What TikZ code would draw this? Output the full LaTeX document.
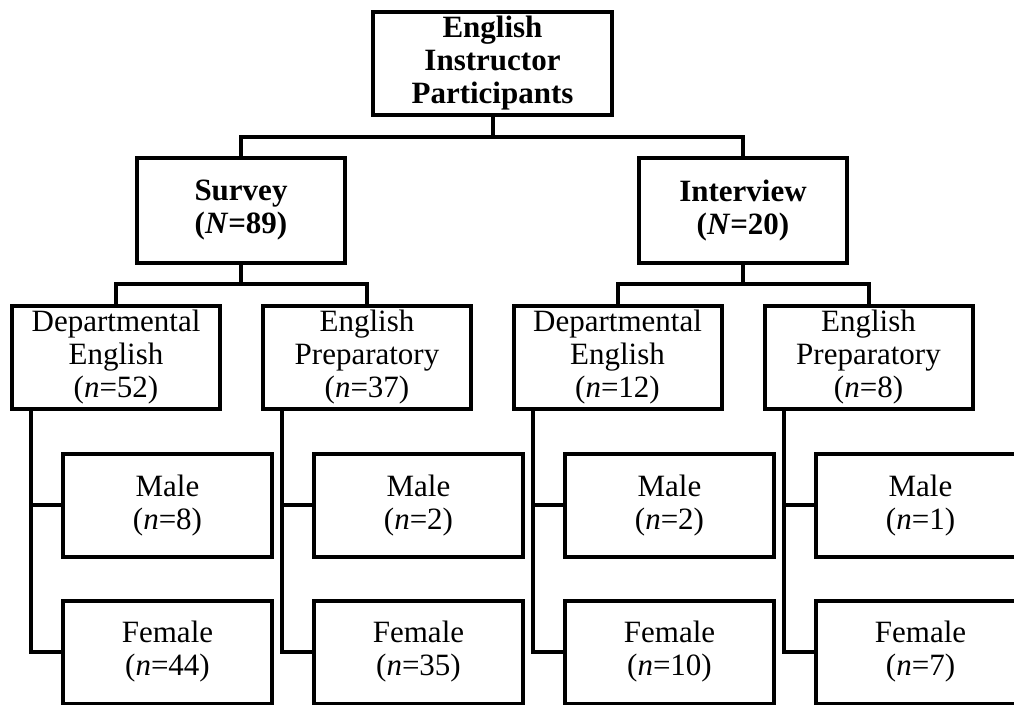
\documentclass[tikz,border=0pt]{standalone}
\usepackage{fontspec}
\setmainfont{Liberation Serif}
\usepackage{tikz}

\tikzset{
  box/.style={draw, line width=3pt, align=center, inner sep=0pt,
    font=\fontsize{23.25}{24.75}\selectfont},
  topbox/.style={box, minimum width=179.25pt, minimum height=77.25pt,
    font=\fontsize{23.25}{24.75}\selectfont\bfseries},
  midbox/.style={box, minimum width=156pt, minimum height=78.75pt,
    font=\fontsize{23.25}{24.75}\selectfont\bfseries},
  grpbox/.style={box, minimum width=156pt, minimum height=77.25pt},
  sexbox/.style={box, minimum width=156.75pt, minimum height=77.25pt},
}

\begin{document}
\begin{tikzpicture}[x=0.75pt,y=-0.75pt,line width=3pt]
\useasboundingbox (0,0) rectangle (1014,705);
\clip (0,0) rectangle (1014,705);
%top
\node[topbox] (eip) at (492.5,63.5) {English\\Instructor\\Participants};
%survey / interview
\node[midbox] (srv) at (241,210.5) {Survey\\(\textit{N}=89)};
\node[midbox] (itv) at (743,210.5) {Interview\\(\textit{N}=20)};
%groups
\node[grpbox] (sde) at (116,357.5) {Departmental\\English\\(\textit{n}=52)};
\node[grpbox] (sep) at (367,357.5) {English\\Preparatory\\(\textit{n}=37)};
\node[grpbox] (ide) at (617.5,357.5) {Departmental\\English\\(\textit{n}=12)};
\node[grpbox] (iep) at (868.5,357.5) {English\\Preparatory\\(\textit{n}=8)};
%male
\node[sexbox] (sdem) at (167.5,505.5) {Male\\(\textit{n}=8)};
\node[sexbox] (sepm) at (418.5,505.5) {Male\\(\textit{n}=2)};
\node[sexbox] (idem) at (669.5,505.5) {Male\\(\textit{n}=2)};
\node[sexbox] (iepm) at (920.5,505.5) {Male\\(\textit{n}=1)};
%female
\node[sexbox] (sdef) at (167.5,652) {Female\\(\textit{n}=44)};
\node[sexbox] (sepf) at (418.5,652) {Female\\(\textit{n}=35)};
\node[sexbox] (idef) at (669.5,652) {Female\\(\textit{n}=10)};
\node[sexbox] (iepf) at (920.5,652) {Female\\(\textit{n}=7)};
%lines
\draw (eip.south) -- ++(0,20) -| (srv.north);
\draw (eip.south) -- ++(0,20) -| (itv.north);
\draw (srv.south) -- ++(0,19) -| (sde.north);
\draw (srv.south) -- ++(0,19) -| (sep.north);
\draw (itv.south) -- ++(0,19) -| (ide.north);
\draw (itv.south) -- ++(0,19) -| (iep.north);
\foreach \g in {sde,sep,ide,iep}{
  \draw ([xshift=15.75pt]\g.south west) |- (\g m.west);
  \draw ([xshift=15.75pt]\g.south west) |- (\g f.west);
}
\end{tikzpicture}
\end{document}
